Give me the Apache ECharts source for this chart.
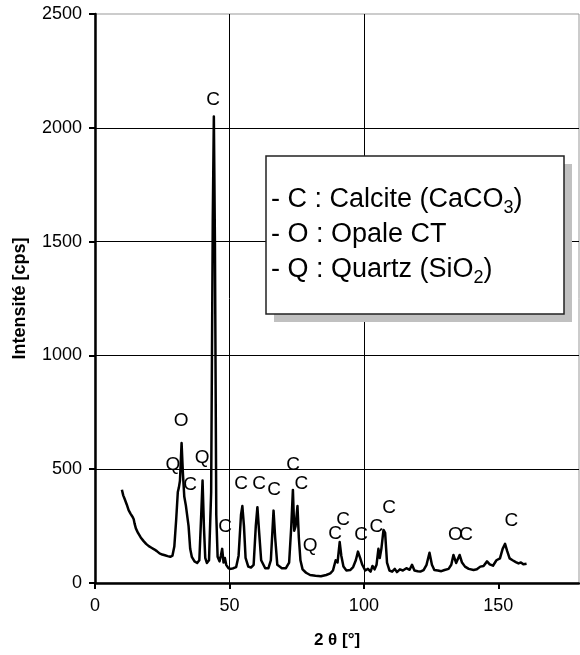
<!DOCTYPE html>
<html>
<head>
<meta charset="utf-8">
<script src="https://cdn.jsdelivr.net/npm/echarts@6/dist/echarts.min.js"></script>
<style>
  html, body { margin: 0; padding: 0; background: #fff; }
  #chart { width: 580px; height: 655px; }
</style>
</head>
<body>
<div id="chart"></div>
<script>
// diffractogramme : 2 theta [deg] / intensite [cps]
var theta = [
  10, 10.5, 11, 11.8, 12.5, 13.2, 14, 14.4, 14.7, 15.2, 16, 17, 18, 19, 20, 21, 22, 23, 24, 25, 26, 27, 28, 28.8,
  29.5, 30.2, 30.8, 31.2, 31.6, 32.2, 32.7, 33.2, 33.8, 34.3, 34.8, 35.4, 36, 37, 38, 38.8,
  39.5, 40, 40.5, 41, 41.6, 42.4, 43.2, 43.8, 44.2, 44.6, 45.1, 45.6, 46.3, 46.8, 47.3, 47.8, 48.3, 48.8,
  49.6, 50.5, 51.5, 52.5, 53.4, 54.3, 54.8, 55.4, 56, 57, 58, 59, 59.8, 60.4, 61, 61.8,
  63.3, 64.5, 65.4, 66.4, 67, 67.8, 69.5, 71, 72.2, 73, 73.6, 74.1, 74.6, 75.3, 75.8, 76.4, 77.2, 78.5,
  80, 82, 84, 86, 87.5, 88.5, 89.5, 90.2, 91, 91.6, 92.4, 93.5, 94.9, 96, 97, 97.8, 98.6, 99.4,
  100.5, 101.5, 102.5, 103.2, 104, 104.7, 105.4, 105.9, 106.5, 107.3, 107.9, 108.6, 109.5, 110.5,
  111.5, 112.3, 113.4, 114.5, 115.8, 117, 117.9, 118.8, 120, 121, 122.2, 123.3, 124.4, 125.3, 126.2,
  127.5, 128.8, 130, 131.5, 132.5, 133.3, 134.3, 135.6, 136.5, 137.6, 139, 140.8, 142, 143.3, 144.5,
  145.8, 146.8, 148, 149.3, 150.6, 151.6, 152.5, 153.3, 154.2, 155.3, 156.5, 157.5, 158.4, 159.3, 160.5
];
var intensity = [
  410, 385, 370, 345, 320, 305, 290, 280, 262, 240, 220, 200, 185, 172, 162, 155, 148, 140, 130, 125, 122, 118, 115, 120,
  160, 280, 400, 420, 450, 615, 480, 380, 340, 335, 250, 150, 115, 95, 88, 100,
  300, 450, 250, 110, 88, 100, 400, 1600, 2050, 1500, 300, 115, 95, 120, 150, 90, 110, 80,
  65, 62, 65, 70, 120, 300, 338, 250, 110, 72, 68, 80, 250, 333, 230, 100,
  65, 65, 100, 318, 200, 80, 65, 65, 90, 250, 409, 230, 250, 338, 200, 100, 60, 45,
  35, 32, 30, 35, 42, 55, 100, 90, 180, 120, 72, 55, 57, 70, 100, 138, 110, 80,
  55, 62, 50, 75, 60, 80, 150, 110, 150, 233, 220, 90, 55, 50,
  62, 48, 60, 55, 65, 58, 80, 55, 52, 50, 57, 80, 133, 80, 57,
  55, 52, 57, 62, 80, 123, 88, 123, 90, 72, 62, 57, 60, 72, 75,
  95, 82, 76, 100, 108, 150, 172, 140, 108, 100, 92, 86, 90, 82, 85
];

// reperes des phases (C calcite, O opale, Q quartz)
var peakTheta = [43.9, 32, 29, 35.4, 39.8, 48.4, 54.3, 61, 66.6, 73.7, 76.7, 80, 89.3, 92.3, 99, 104.6, 109.4, 134, 138, 154.8];
var peakIntensity = [2122, 712, 518, 431, 549, 246, 435, 435, 409, 518, 435, 163, 215, 277, 211, 246, 330, 211, 211, 272];
var peakLetter = ['C', 'O', 'Q', 'C', 'Q', 'C', 'C', 'C', 'C', 'C', 'C', 'Q', 'C', 'C', 'C', 'C', 'C', 'O', 'C', 'C'];

var xTicks = [0, 50, 100, 150];

var FONT = '"Liberation Sans", Arial, sans-serif';

var chart = echarts.init(document.getElementById('chart'));

var lineData = theta.map(function (t, i) { return [t, intensity[i]]; });
var markData = peakTheta.map(function (t, i) {
  return { value: [t, peakIntensity[i]], name: peakLetter[i] };
});

var option = {
  animation: false,
  backgroundColor: '#fff',
  grid: {
    left: 95,
    right: 1,
    top: 14,
    bottom: 72,
    show: true,
    borderColor: '#999',
    borderWidth: 1,
    backgroundColor: '#fff'
  },
  xAxis: {
    type: 'value',
    min: 0,
    max: 180,
    interval: 50,
    name: '2 θ [°]',
    nameLocation: 'middle',
    nameGap: 49,
    nameTextStyle: { fontFamily: FONT, fontSize: 17, fontWeight: 'bold', color: '#000' },
    axisLine: { lineStyle: { color: '#000', width: 2.5 } },
    axisTick: { length: 6, lineStyle: { color: '#000', width: 2 }, customValues: xTicks },
    axisLabel: { customValues: xTicks, margin: 14, fontFamily: FONT, fontSize: 18, color: '#000' },
    splitLine: { show: true, showMaxLine: false, lineStyle: { color: '#000', width: 1 } }
  },
  yAxis: {
    type: 'value',
    min: 0,
    max: 2500,
    interval: 500,
    name: 'Intensité [cps]',
    nameLocation: 'middle',
    nameGap: 66,
    nameTextStyle: { fontFamily: FONT, fontSize: 18, fontWeight: 'bold', color: '#000' },
    axisLine: { show: true, lineStyle: { color: '#000', width: 2.5 } },
    axisTick: { show: true, length: 6, lineStyle: { color: '#000', width: 2 } },
    axisLabel: {
      margin: 13,
      fontFamily: FONT,
      fontSize: 18,
      color: '#000',
      formatter: function (v) { return String(v); }
    },
    splitLine: { show: true, showMaxLine: false, lineStyle: { color: '#000', width: 1 } }
  },
  series: [
    {
      type: 'line',
      data: lineData,
      showSymbol: false,
      symbol: 'none',
      lineStyle: { color: '#000', width: 2.5, join: 'round' },
      z: 3
    },
    {
      type: 'scatter',
      data: markData,
      symbolSize: 0,
      itemStyle: { color: '#000', opacity: 1 },
      label: {
        show: true,
        position: [0, 0],
        align: 'center',
        verticalAlign: 'middle',
        formatter: '{b}',
        fontFamily: FONT,
        fontSize: 19,
        color: '#000',
        textBorderWidth: 0
      },
      z: 4
    }
  ],
  graphic: [
    {
      type: 'rect',
      shape: { x: 274, y: 164, width: 298, height: 158 },
      style: { fill: '#c0c0c0' },
      z: 10
    },
    {
      type: 'rect',
      shape: { x: 266, y: 156, width: 298, height: 158 },
      style: { fill: '#fff', stroke: '#222', lineWidth: 1.5 },
      z: 11
    },
    {
      type: 'text',
      left: 271,
      top: 182,
      z: 12,
      style: {
        text: '- C : Calcite (CaCO{sub|3})\n- O : Opale CT\n- Q : Quartz (SiO{sub|2})',
        font: '27px ' + FONT,
        fill: '#000',
        lineHeight: 35,
        rich: {
          sub: { fontSize: 18, fontFamily: FONT, verticalAlign: 'bottom', lineHeight: 35 }
        }
      }
    }
  ]
};

chart.setOption(option);
</script>
</body>
</html>
